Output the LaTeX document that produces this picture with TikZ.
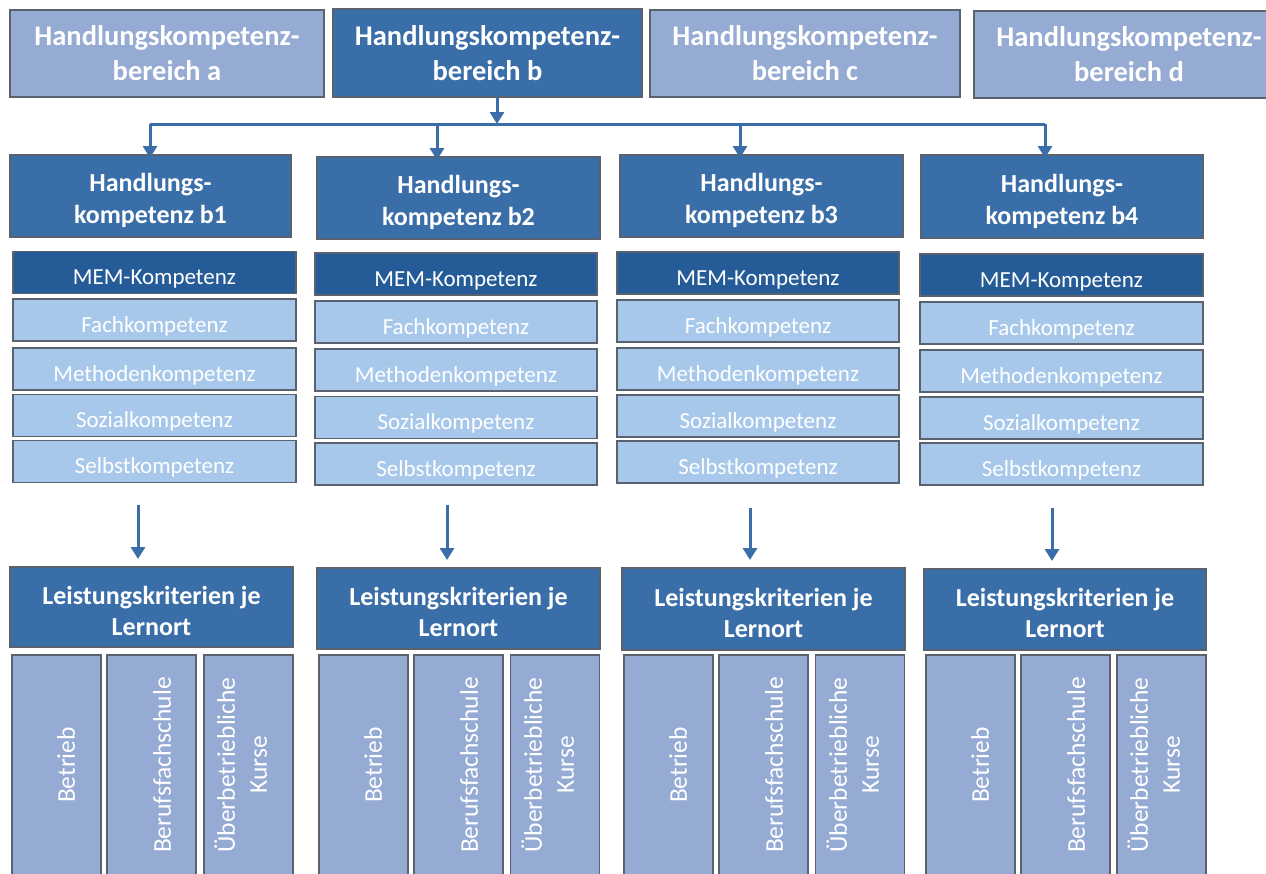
\documentclass[tikz,border=0pt]{standalone}
\usepackage{fontspec}
\setmainfont{Carlito}
\usetikzlibrary{arrows.meta}
\definecolor{lightA}{RGB}{149,171,211}
\definecolor{darkA}{RGB}{58,110,169}
\definecolor{memC}{RGB}{37,92,152}
\definecolor{lightB}{RGB}{167,200,235}
\definecolor{bordgray}{RGB}{90,98,110}
\begin{document}
\begin{tikzpicture}[x=1pt,y=-1pt,
  box/.style={draw=bordgray, line width=1.5pt, inner sep=0pt, outer sep=0pt, text=white, align=center},
  topl/.style={box, fill=lightA, font=\fontsize{28.5}{35}\selectfont\bfseries},
  topd/.style={box, fill=darkA, font=\fontsize{28.5}{35}\selectfont\bfseries},
  hk/.style={box, fill=darkA, text height=61pt, text depth=6pt, font=\fontsize{26}{32}\selectfont\bfseries},
  lk/.style={box, fill=darkA, text height=62pt, text depth=6pt, font=\fontsize{26}{31}\selectfont\bfseries},
  mem/.style={box, fill=memC, minimum height=42, text height=24pt, text depth=0pt, font=\fontsize{23}{27}\selectfont},
  sk/.style={box, fill=lightB, minimum height=42, text height=24pt, text depth=0pt, font=\fontsize{23}{27}\selectfont},
  colbox/.style={box, fill=lightA, minimum width=89, minimum height=230},
  vt/.style={rotate=90, anchor=south, inner sep=0pt, outer sep=0pt, text=white, align=center, font=\fontsize{25.5}{32}\selectfont},
  conn/.style={draw=darkA, line width=3pt},
  arr/.style={conn, -{Triangle[width=14pt,length=12pt]}}
]
\useasboundingbox (0,0) rectangle (1266,873);
\fill[white] (0,0) rectangle (1266,873);

% top row
\node[topl, minimum width=314, minimum height=87] (ta) at (167,53.5) {Handlungskompetenz-\\bereich a};
\node[topd, minimum width=309, minimum height=88] (tb) at (487.5,53) {Handlungskompetenz-\\bereich b};
\node[topl, minimum width=310, minimum height=87] (tc) at (805,53.5) {Handlungskompetenz-\\bereich c};
\node[topl, minimum width=310, minimum height=87] (td) at (1129,54.5) {Handlungskompetenz-\\bereich d};

% second row
\node[hk, minimum width=281, minimum height=82] (h1) at (150.5,196) {Handlungs-\\kompetenz b1};
\node[hk, minimum width=283, minimum height=82] (h2) at (458.5,198) {Handlungs-\\kompetenz b2};
\node[hk, minimum width=283, minimum height=82] (h3) at (761.5,196) {Handlungs-\\kompetenz b3};
\node[hk, minimum width=282, minimum height=83] (h4) at (1062,196.5) {Handlungs-\\kompetenz b4};

% connectors top
\coordinate (j0) at (497,124);
\coordinate (j1) at (150,124);
\coordinate (j2) at (437,124);
\coordinate (j3) at (740,124);
\coordinate (j4) at (1045,124);
\draw[arr] (tb.south -| j0) -- (j0);
\draw[conn] (j1) -- (j4);
\draw[arr] (j1) -- ([yshift=-3pt]j1 |- h1.north);
\draw[arr] (j2) -- ([yshift=-3pt]j2 |- h2.north);
\draw[arr] (j3) -- ([yshift=-3pt]j3 |- h3.north);
\draw[arr] (j4) -- ([yshift=-3pt]j4 |- h4.north);

% competence boxes col1
\node[mem, minimum width=283] (m1) at (154.5,272.5) {MEM-Kompetenz};
\node[sk, minimum width=283] (f1) at (154.5,320) {Fachkompetenz};
\node[sk, minimum width=283] (me1) at (154.5,369) {Methodenkompetenz};
\node[sk, minimum width=283] (s1) at (154.5,415.5) {Sozialkompetenz};
\node[sk, minimum width=283] (se1) at (154.5,461.5) {Selbstkompetenz};
% col2
\node[mem, minimum width=282] (m2) at (456,274) {MEM-Kompetenz};
\node[sk, minimum width=282] (f2) at (456,322) {Fachkompetenz};
\node[sk, minimum width=282] (me2) at (456,370) {Methodenkompetenz};
\node[sk, minimum width=282] (s2) at (456,417.5) {Sozialkompetenz};
\node[sk, minimum width=282] (se2) at (456,464) {Selbstkompetenz};
% col3
\node[mem, minimum width=282] (m3) at (758,273) {MEM-Kompetenz};
\node[sk, minimum width=282] (f3) at (758,321) {Fachkompetenz};
\node[sk, minimum width=282] (me3) at (758,369) {Methodenkompetenz};
\node[sk, minimum width=282] (s3) at (758,416) {Sozialkompetenz};
\node[sk, minimum width=282] (se3) at (758,462) {Selbstkompetenz};
% col4
\node[mem, minimum width=283] (m4) at (1061.5,275) {MEM-Kompetenz};
\node[sk, minimum width=283] (f4) at (1061.5,323) {Fachkompetenz};
\node[sk, minimum width=283] (me4) at (1061.5,371) {Methodenkompetenz};
\node[sk, minimum width=283] (s4) at (1061.5,418) {Sozialkompetenz};
\node[sk, minimum width=283] (se4) at (1061.5,464) {Selbstkompetenz};

% Leistungskriterien
\node[lk, minimum width=283, minimum height=80] (L1) at (151.5,607) {Leistungskriterien je\\Lernort};
\node[lk, minimum width=283, minimum height=81] (L2) at (458.5,608.5) {Leistungskriterien je\\Lernort};
\node[lk, minimum width=283, minimum height=82] (L3) at (763.5,609) {Leistungskriterien je\\Lernort};
\node[lk, minimum width=282, minimum height=81] (L4) at (1065,609.5) {Leistungskriterien je\\Lernort};

% arrows to Leistungskriterien
\coordinate (a1) at (138,505);
\coordinate (a2) at (447,505);
\coordinate (a3) at (750,508);
\coordinate (a4) at (1052,508);
\draw[arr, shorten >=8pt] (a1) -- (a1 |- L1.north);
\draw[arr, shorten >=8pt] (a2) -- (a2 |- L2.north);
\draw[arr, shorten >=8pt] (a3) -- (a3 |- L3.north);
\draw[arr, shorten >=8pt] (a4) -- (a4 |- L4.north);

% bottom columns
\node[colbox] (c11) at (56.5,770) {};
\node[colbox] (c12) at (151.5,770) {};
\node[colbox] (c13) at (248.5,770) {};
\node[colbox] (c21) at (363.5,770) {};
\node[colbox] (c22) at (458.5,770) {};
\node[colbox] (c23) at (555,770) {};
\node[colbox] (c31) at (668.5,770) {};
\node[colbox] (c32) at (763.5,770) {};
\node[colbox] (c33) at (860,770) {};
\node[colbox] (c41) at (970.5,770) {};
\node[colbox] (c42) at (1065.5,770) {};
\node[colbox] (c43) at (1161.5,770) {};

\node[vt] (t11) at (75,765) {Betrieb};
\node[vt] (t12) at (171,765) {Berufsfachschule};
\node[vt] (t13) at (267,765) {Überbetriebliche\\Kurse};
\node[vt] (t21) at (382,765) {Betrieb};
\node[vt] (t22) at (478,765) {Berufsfachschule};
\node[vt] (t23) at (574,765) {Überbetriebliche\\Kurse};
\node[vt] (t31) at (687,765) {Betrieb};
\node[vt] (t32) at (783,765) {Berufsfachschule};
\node[vt] (t33) at (879,765) {Überbetriebliche\\Kurse};
\node[vt] (t41) at (989,765) {Betrieb};
\node[vt] (t42) at (1085,765) {Berufsfachschule};
\node[vt] (t43) at (1180,765) {Überbetriebliche\\Kurse};
\end{tikzpicture}
\end{document}
